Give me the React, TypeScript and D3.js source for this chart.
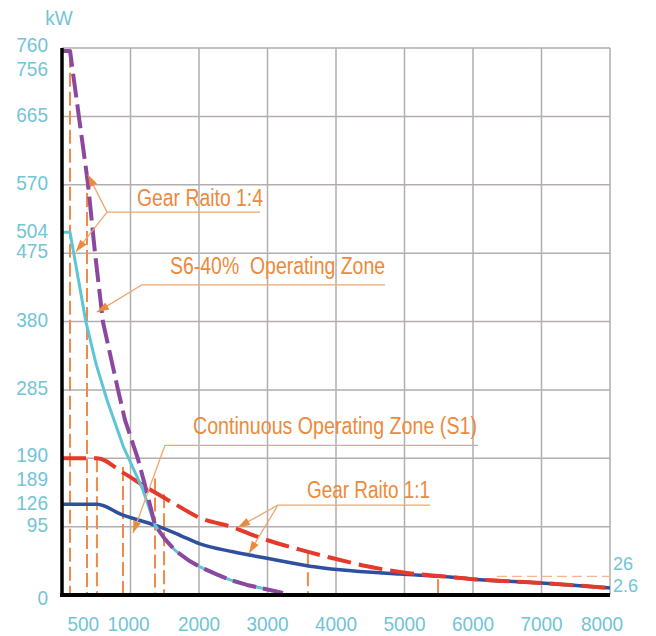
import React from 'react';
import * as d3 from 'd3';

const W = 656;
const H = 636;

// ---- data ----
const rpmTicks = [500, 1000, 2000, 3000, 4000, 5000, 6000, 7000, 8000];
const kwTicks = [0, 95, 126, 189, 190, 285, 380, 475, 504, 570, 665, 756, 760];
const gridRpm = [1000, 2000, 3000, 4000, 5000, 6000, 7000, 8000];
const gridKw = [95, 190, 285, 380, 475, 570, 665, 760];
const endLabels = ['26', '2.6'];
const refLevelKw = 26;
const refLevelFromRpm = 6350;

// S6-40% Gear ratio 1:4 (purple dashed)
const s6Gear14: [number, number][] = [
  [0, 756], [117, 756], [380, 571], [482, 475], [599, 379], [818, 285], [920, 243],
  [1109, 189], [1241, 142], [1358, 97], [1500, 78], [1650, 62], [1850, 48], [2015, 39],
  [2250, 29], [2453, 21], [2700, 14], [2891, 10], [3226, 3],
];
// S1 Gear ratio 1:4 (cyan solid)
const s1Gear14: [number, number][] = [
  [0, 504], [117, 504], [350, 379], [500, 320], [657, 271], [900, 205], [1182, 146],
  [1358, 97], [1500, 78], [1650, 62], [1850, 48], [2015, 39], [2250, 29], [2453, 21],
  [2700, 14], [2891, 10], [3226, 3],
];
// S6-40% Gear ratio 1:1 (red dashed)
const s6Gear11: [number, number][] = [
  [0, 190], [510, 190], [890, 170], [1241, 149], [1620, 128], [2015, 107], [2496, 94],
  [2818, 82], [3474, 63], [3956, 51], [4453, 40], [4934, 32], [5664, 25], [6000, 22],
  [7000, 16.7], [8000, 9.7],
];
// S1 Gear ratio 1:1 (blue solid)
const s1Gear11: [number, number][] = [
  [0, 126], [510, 126], [890, 111], [1358, 97], [1723, 83], [2015, 71], [2496, 60],
  [2993, 51], [3620, 40], [4058, 35], [4934, 29], [5664, 25], [6000, 22], [7000, 16.7],
  [8000, 9.7],
];
// orange dashed reference verticals: rpm and top kW
const markerRpm = [117, 365, 510, 890, 1358, 1490, 3590, 5490];
const markerTopKw = [752, 585, 190, 178, 162, 140, 58, 22];

// ---- layout ----
const x = d3.scaleLinear().domain([0, 8000]).range([62, 610]);
const y = d3.scaleLinear().domain([0, 760]).range([595, 48]);

const ORANGE = '#ec8a3c';
const LEADER = '#f1a56c';
const BLUE_LBL = '#72c4d6';
const FONT = '"Liberation Sans", Arial, sans-serif';

const yLabelShift: Record<number, number> = { 760: -1.5, 756: 19.5, 190: -1.5, 189: 22, 0: 5 };
const xLabelShift: Record<number, number> = { 500: -13, 1000: -2, 8000: -8 };

type Ann = {
  text: string;
  at: [number, number];
  width: number;
  line: [number, number, number];
  tips: [number, number][];
};
const annotations: Ann[] = [
  { text: 'Gear Raito 1:4', at: [1095, 541], width: 126, line: [657, 2891, 532], tips: [[380, 584], [204, 477]] },
  { text: 'S6-40%  Operating Zone', at: [1577, 446], width: 215, line: [1168, 4715, 431], tips: [[511, 393]] },
  { text: 'Continuous Operating Zone (S1)', at: [1912, 224], width: 284, line: [1504, 6073, 208], tips: [[1036, 86]] },
  { text: 'Gear Raito 1:1', at: [3577, 135], width: 123, line: [3153, 5372, 125], tips: [[2569, 94], [2730, 58]] },
];

const smooth = d3
  .line<[number, number]>()
  .x((d) => x(d[0]))
  .y((d) => y(d[1]))
  .curve(d3.curveMonotoneX);

const straight = d3
  .line<[number, number]>()
  .x((d) => x(d[0]))
  .y((d) => y(d[1]))
  .curve(d3.curveLinear);

function CText(props: {
  x: number; y: number; sx?: number; size?: number; fill: string; anchor?: string; children: React.ReactNode;
}) {
  const { sx = 0.95, size = 20, fill, anchor = 'start' } = props;
  return (
    <text
      transform={`translate(${props.x},${props.y}) scale(${sx},1)`}
      fontSize={size}
      fill={fill}
      textAnchor={anchor as any}
      dominantBaseline="middle"
      fontFamily={FONT}
    >
      {props.children}
    </text>
  );
}

export default function App() {
  return (
    <svg
      width={W}
      height={H}
      viewBox={`0 0 ${W} ${H}`}
      style={{ position: 'absolute', left: 0, top: 0, background: '#fff' }}
    >
      <defs>
        <marker id="arr" viewBox="0 0 12 8" refX="12" refY="4" markerWidth="13" markerHeight="8"
          markerUnits="userSpaceOnUse" orient="auto">
          <path d="M0,0 L12,4 L0,8 z" fill={ORANGE} />
        </marker>
      </defs>

      {/* grid */}
      <g stroke="#b3adad" strokeWidth={1.5}>
        {gridKw.map((k) => (
          <line key={'h' + k} x1={x(0)} x2={x(8000)} y1={y(k)} y2={y(k)} />
        ))}
        {gridRpm.map((r) => (
          <line key={'v' + r} x1={x(r)} x2={x(r)} y1={y(0)} y2={y(760)} />
        ))}
      </g>

      {/* orange reference dashes */}
      <g stroke="#f08a48" strokeWidth={2} strokeDasharray="14,5" fill="none">
        {markerRpm.map((r, i) => (
          <line key={'m' + i} x1={x(r)} x2={x(r)} y1={y(markerTopKw[i])} y2={y(0)} />
        ))}
        <line x1={x(refLevelFromRpm)} x2={x(8000)} y1={y(refLevelKw)} y2={y(refLevelKw)}
          stroke="#f5b58a" strokeWidth={1.3} strokeDasharray="10,5" />
      </g>

      {/* curves */}
      <path d={smooth(s1Gear11) || ''} fill="none" stroke="#2f4f9f" strokeWidth={3.5} />
      <path d={smooth(s6Gear11) || ''} fill="none" stroke="#e53a2b" strokeWidth={4} strokeDasharray="24,8" />
      <path d={straight(s1Gear14) || ''} fill="none" stroke="#5cc6d6" strokeWidth={3} strokeLinejoin="round" />
      <path d={straight(s6Gear14) || ''} fill="none" stroke="#8c489f" strokeWidth={4} strokeDasharray="24,7"
        strokeLinejoin="round" />

      {/* axes */}
      <line x1={x(0)} x2={x(0)} y1={y(760)} y2={y(0) + 2} stroke="#000" strokeWidth={3.5} />
      <line x1={x(0) - 2} x2={x(8000)} y1={y(0)} y2={y(0)} stroke="#000" strokeWidth={4} />

      {/* annotations */}
      {annotations.map((a, i) => {
        const lx = x(a.line[0]);
        const ly = y(a.line[2]);
        return (
          <g key={'a' + i}>
            <text
              x={x(a.at[0])}
              y={y(a.at[1])}
              fontSize={23}
              fill={ORANGE}
              fontFamily={FONT}
              textLength={a.width}
              lengthAdjust="spacingAndGlyphs"
              style={{ whiteSpace: 'pre' }}
            >
              {a.text}
            </text>
            <line x1={lx} x2={x(a.line[1])} y1={ly} y2={ly} stroke={LEADER} strokeWidth={1.3} />
            {a.tips.map((t, j) => (
              <line key={j} x1={lx} y1={ly} x2={x(t[0])} y2={y(t[1])} stroke={LEADER} strokeWidth={1.3}
                markerEnd="url(#arr)" />
            ))}
          </g>
        );
      })}

      {/* y labels */}
      <CText x={59} y={20} fill={BLUE_LBL} anchor="middle">kW</CText>
      {kwTicks.map((k) => (
        <CText key={'yl' + k} x={48} y={y(k) + (yLabelShift[k] || 0)} fill={BLUE_LBL} anchor="end">
          {String(k)}
        </CText>
      ))}
      {/* x labels */}
      {rpmTicks.map((r) => (
        <CText key={'xl' + r} x={x(r) + (xLabelShift[r] || 0)} y={626} fill={BLUE_LBL} anchor="middle">
          {String(r)}
        </CText>
      ))}
      {/* end labels */}
      <CText x={613} y={y(refLevelKw) - 11} fill={BLUE_LBL} size={19}>{endLabels[0]}</CText>
      <CText x={613} y={y(refLevelKw) + 11} fill={BLUE_LBL} size={19}>{endLabels[1]}</CText>
    </svg>
  );
}
